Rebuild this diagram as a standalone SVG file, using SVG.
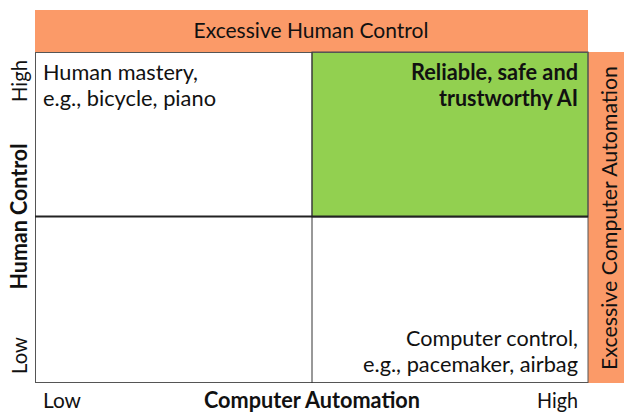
<svg xmlns="http://www.w3.org/2000/svg" width="624" height="415" viewBox="0 0 624 415">
  <style>
    text { font-family: Lato, "Open Sans", "Liberation Sans", sans-serif; font-size: 22px; fill: #111; }
    .b { font-weight: bold; }
    .orange { fill: #FB9A68; }
    .end { text-anchor: end; }
    .mid { text-anchor: middle; }
  </style>
  <rect width="624" height="415" fill="#ffffff"/>

  <g id="excessive-human-control">
    <rect class="orange" x="35" y="10" width="553" height="42"/>
    <text x="311" y="38" class="mid" textLength="235" lengthAdjust="spacingAndGlyphs">Excessive Human Control</text>
  </g>

  <g id="excessive-computer-automation">
    <rect class="orange" x="588" y="52" width="36" height="331"/>
    <text transform="translate(617,218) rotate(-90)" x="0" y="0" class="mid" textLength="304" lengthAdjust="spacingAndGlyphs">Excessive Computer Automation</text>
  </g>

  <g id="reliable-ai">
    <rect x="312" y="52" width="276" height="165" fill="#92D050" stroke="#4a4a4a" stroke-width="1"/>
    <text x="578" y="80" class="b end" textLength="167" lengthAdjust="spacingAndGlyphs">Reliable, safe and</text>
    <text x="578" y="106" class="b end" textLength="139" lengthAdjust="spacingAndGlyphs">trustworthy AI</text>
  </g>

  <g id="human-mastery">
    <text x="43" y="80" textLength="155" lengthAdjust="spacingAndGlyphs">Human mastery,</text>
    <text x="43" y="106" textLength="173" lengthAdjust="spacingAndGlyphs">e.g., bicycle, piano</text>
  </g>

  <g id="computer-control">
    <text x="578" y="346" class="end" textLength="172" lengthAdjust="spacingAndGlyphs">Computer control,</text>
    <text x="578" y="372" class="end" textLength="215" lengthAdjust="spacingAndGlyphs">e.g., pacemaker, airbag</text>
  </g>

  <g id="connectors">
    <rect x="35.5" y="52.5" width="552.5" height="330" fill="none" stroke="#555" stroke-width="1"/>
    <line x1="312" y1="52" x2="312" y2="383" stroke="#333" stroke-width="1"/>
    <line x1="35" y1="216.5" x2="588" y2="216.5" stroke="#222" stroke-width="2"/>
  </g>

  <g id="y-axis">
    <text transform="translate(27,102) rotate(-90)" x="0" y="0" textLength="42" lengthAdjust="spacingAndGlyphs">High</text>
    <text transform="translate(27,216.5) rotate(-90)" x="0" y="0" class="b mid" textLength="146" lengthAdjust="spacingAndGlyphs">Human Control</text>
    <text transform="translate(27,374) rotate(-90)" x="0" y="0" textLength="37" lengthAdjust="spacingAndGlyphs">Low</text>
  </g>

  <g id="x-axis">
    <text x="43" y="408" textLength="38" lengthAdjust="spacingAndGlyphs">Low</text>
    <text x="312" y="408" class="b mid" textLength="216" lengthAdjust="spacingAndGlyphs">Computer Automation</text>
    <text x="578" y="408" class="end" textLength="41" lengthAdjust="spacingAndGlyphs">High</text>
  </g>
</svg>
